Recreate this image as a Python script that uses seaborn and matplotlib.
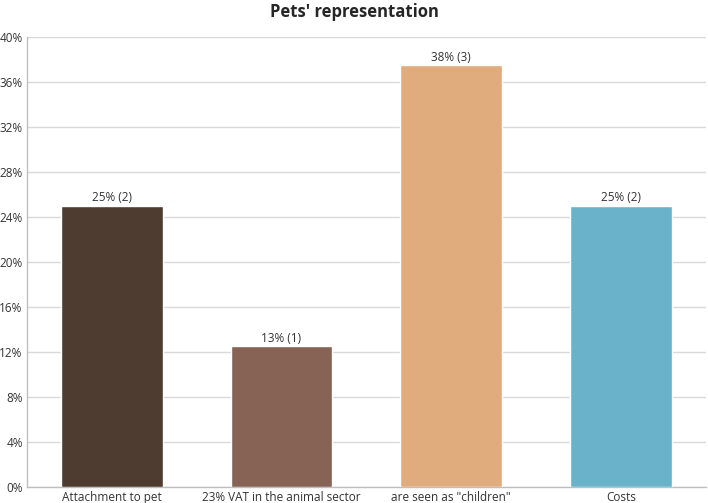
import pandas as pd
import matplotlib.pyplot as plt
import seaborn as sns
from matplotlib.ticker import FuncFormatter, MultipleLocator

categorias = ['Attachment to pet', '23% VAT in the animal sector', 'are seen as "children"', 'Costs']
percentual = [25.0, 12.5, 37.5, 25.0]
contagem = [2, 1, 3, 2]
rotulos = ['25% (2)', '13% (1)', '38% (3)', '25% (2)']
cores = ['#4f3c30', '#866355', '#e0ac7d', '#69b2ca']

df = pd.DataFrame({'Categoria': categorias, 'Percentual': percentual, 'Contagem': contagem})

sns.set_style('white')
plt.rcParams['font.family'] = ['Open Sans', 'DejaVu Sans']

fig = plt.figure(figsize=(7.08, 5.03), dpi=100)
ax = fig.add_axes([0.038, 0.032, 0.959, 0.894])

sns.barplot(data=df, x='Categoria', y='Percentual', hue='Categoria', palette=cores,
            width=0.6, legend=False, saturation=1, ax=ax, zorder=3)

for barra, rotulo in zip(ax.patches, rotulos):
    ax.text(barra.get_x() + barra.get_width() / 2, barra.get_height() + 0.15, rotulo,
            ha='center', va='bottom', fontsize=8.5, color='#333333', zorder=4)

ax.set_ylim(0, 40)
ax.set_xlim(-0.5, 3.5)
ax.yaxis.set_major_locator(MultipleLocator(4))
ax.yaxis.set_major_formatter(FuncFormatter(lambda v, p: f'{v:.0f}%'))
ax.grid(axis='y', color='#d9d9d9', linewidth=1, zorder=0)
ax.tick_params(axis='both', length=0, labelsize=8.5, colors='#333333', pad=3)
ax.set_xlabel('')
ax.set_ylabel('')
for lado in ['top', 'right']:
    ax.spines[lado].set_visible(False)
for lado in ['left', 'bottom']:
    ax.spines[lado].set_color('#bfbfbf')
    ax.spines[lado].set_linewidth(1)

fig.suptitle("Pets' representation", fontsize=12, fontweight='bold', y=0.995, va='top')

fig.savefig('out.png', dpi=100)
